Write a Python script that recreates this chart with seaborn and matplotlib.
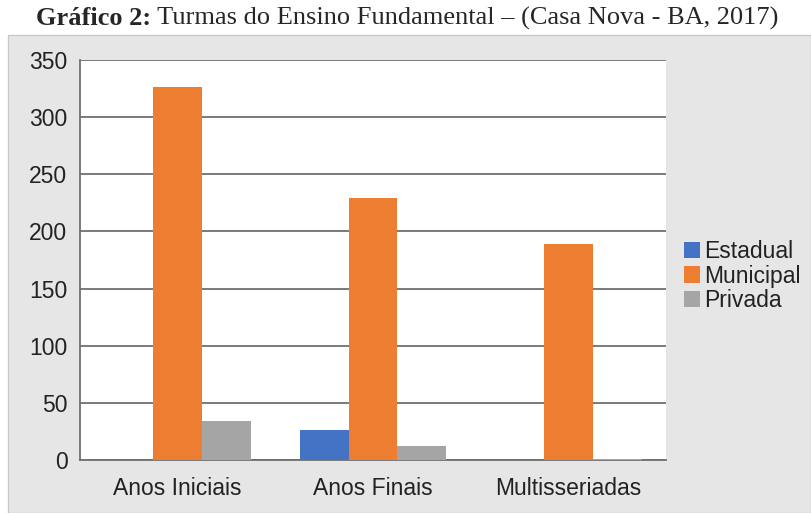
import matplotlib
matplotlib.use("Agg")
import matplotlib.pyplot as plt
import seaborn as sns
import pandas as pd
from matplotlib.patches import Rectangle

categorias = ["Anos Iniciais", "Anos Finais", "Multisseriadas"]
estadual = [0, 26, 0]
municipal = [326, 229, 189]
privada = [34, 12, 1]
series = ["Estadual", "Municipal", "Privada"]
cores = ["#4472C4", "#ED7D31", "#A5A5A5"]
yticks = [0, 50, 100, 150, 200, 250, 300, 350]

rows = []
for s, vals in zip(series, [estadual, municipal, privada]):
    for c, v in zip(categorias, vals):
        rows.append({"Categoria": c, "Rede": s, "Turmas": v})
df = pd.DataFrame(rows)

sns.set_theme(style="white")
plt.rcParams['font.family'] = ['Liberation Sans', 'DejaVu Sans']

fig = plt.figure(figsize=(8.11, 5.13), dpi=100)
W, H = 811, 513
# gray panel
fig.patches.append(Rectangle((8 / W, 0), (W - 8) / W, (H - 35) / H,
                             transform=fig.transFigure, facecolor="#E6E6E6",
                             edgecolor="#C8C8C8", linewidth=1.0, zorder=-5))

ax = fig.add_axes([80 / W, (H - 460) / H, 586 / W, 400 / H])
ax.set_zorder(2)
ax.set_facecolor("white")
sns.barplot(data=df, x="Categoria", y="Turmas", hue="Rede", hue_order=series,
            palette=cores, width=0.75, ax=ax, saturation=1, zorder=3,
            linewidth=0)

ax.set_ylim(0, 350)
ax.set_xlim(-0.5, 2.5)
ax.set_yticks(yticks)
ax.set_yticklabels([str(v) for v in yticks], fontsize=16.5, color="#222222")
ax.yaxis.grid(True, color="#707070", linewidth=1.3, zorder=0)
ax.set_axisbelow(True)
ax.set_xlabel("")
ax.set_ylabel("")
ax.tick_params(axis="x", which="major", length=0, labelsize=16.5, labelcolor="#222222", pad=12)
ax.set_xticks([-0.5, 0.5, 1.5, 2.5], minor=True)
ax.tick_params(axis="x", which="minor", length=7, width=1.2, color="#707070", direction="out")
ax.tick_params(axis="y", length=7, width=1.2, color="#707070", direction="out", pad=2)
for side in ["top", "right"]:
    ax.spines[side].set_visible(False)
for side in ["left", "bottom"]:
    ax.spines[side].set_color("#707070")
    ax.spines[side].set_linewidth(1.3)

leg = ax.legend(loc="center left", bbox_to_anchor=(1.0, 0.46), frameon=False,
                fontsize=16.5, handlelength=0.7, handleheight=0.7,
                handletextpad=0.15, labelspacing=0.05, borderaxespad=0.4)
for t in leg.get_texts():
    t.set_color("#222222")

# title with mixed weights
fig.canvas.draw()
r = fig.canvas.get_renderer()
t1 = fig.text(0, 0, "Gráfico 2:", fontsize=19, fontweight="bold",
              family=["Liberation Serif", "DejaVu Serif"], va="baseline")
t2 = fig.text(0, 0, " Turmas do Ensino Fundamental – (Casa Nova - BA, 2017)",
              fontsize=19, family=["Liberation Serif", "DejaVu Serif"], va="baseline")
w1 = t1.get_window_extent(r).width
w2 = t2.get_window_extent(r).width
x0 = (W * 0.5 - (w1 + w2) / 2) + 2
yb = (H - 25) / H
t1.set_position((x0 / W, yb))
t2.set_position(((x0 + w1) / W, yb))

fig.savefig("out.png", dpi=100)
